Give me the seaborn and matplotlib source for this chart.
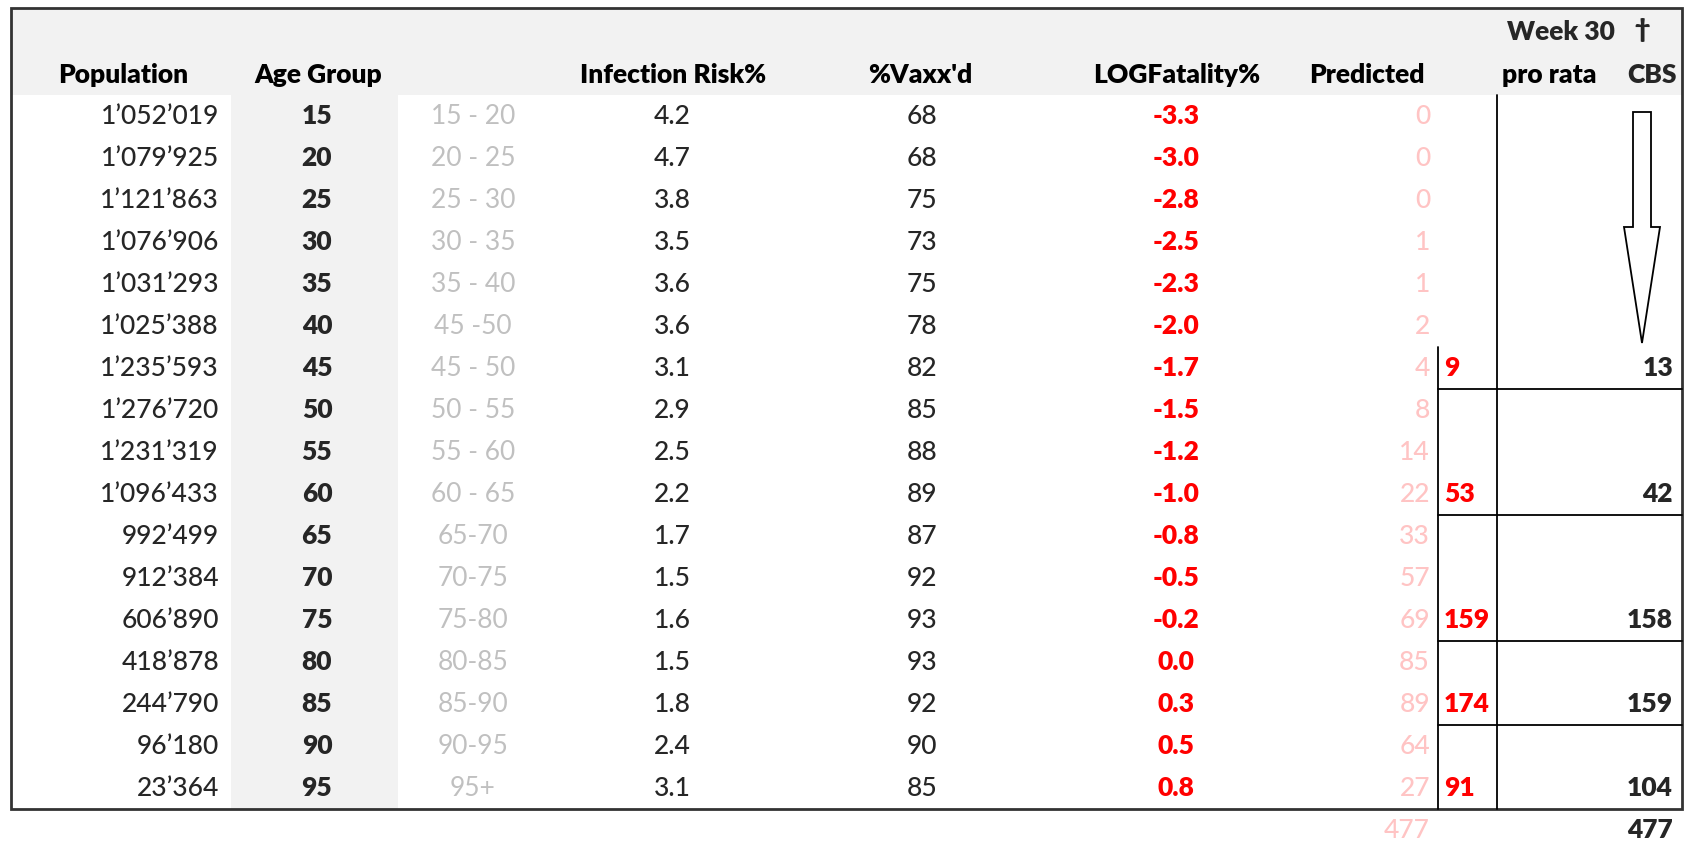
import matplotlib
matplotlib.use("Agg")
import matplotlib.pyplot as plt
from matplotlib.patches import Rectangle, Polygon
import seaborn as sns

# table data
population = [1052019, 1079925, 1121863, 1076906, 1031293, 1025388, 1235593, 1276720,
              1231319, 1096433, 992499, 912384, 606890, 418878, 244790, 96180, 23364]
age_group = [15, 20, 25, 30, 35, 40, 45, 50, 55, 60, 65, 70, 75, 80, 85, 90, 95]
age_range = ["15 - 20", "20 - 25", "25 - 30", "30 - 35", "35 - 40", "45 -50", "45 - 50",
             "50 - 55", "55 - 60", "60 - 65", "65-70", "70-75", "75-80", "80-85",
             "85-90", "90-95", "95+"]
infection_risk = [4.2, 4.7, 3.8, 3.5, 3.6, 3.6, 3.1, 2.9, 2.5, 2.2, 1.7, 1.5, 1.6, 1.5, 1.8, 2.4, 3.1]
vaxxed = [68, 68, 75, 73, 75, 78, 82, 85, 88, 89, 87, 92, 93, 93, 92, 90, 85]
log_fatality = [-3.3, -3.0, -2.8, -2.5, -2.3, -2.0, -1.7, -1.5, -1.2, -1.0, -0.8, -0.5,
                -0.2, 0.0, 0.3, 0.5, 0.8]
predicted = [0, 0, 0, 1, 1, 2, 4, 8, 14, 22, 33, 57, 69, 85, 89, 64, 27]
# pro rata / CBS groups: (first row, last row)
groups = [(0, 6), (7, 9), (10, 12), (13, 14), (15, 16)]
pro_rata = [9, 53, 159, 174, 91]
cbs = [13, 42, 158, 159, 104]
predicted_total = 477
cbs_total = 477

headers = ["Population", "Age Group", "Infection Risk%", "%Vaxx'd", "LOGFatality%",
           "Predicted", "pro rata"]

sns.set_theme(style="white")
plt.rcParams['font.family'] = ['Lato', 'DejaVu Sans']

RED = "#ff0000"
PINK = "#ffc4c4"
LIGHT = "#c0c0c0"
GREY_BG = "#f2f2f2"
FS = 19
REG = "medium"
BOLD = "heavy"

fig = plt.figure(figsize=(16.85, 8.46), dpi=100)
ax = fig.add_axes([0, 0, 1, 1])
ax.set_xlim(0, 1685)
ax.set_ylim(846, 0)
ax.axis("off")

# layout (pixels)
left, right, top = 11, 1682, 8
row0, row_h = 116, 42
data_top = row0 - row_h / 2
bottom = row0 + (len(age_group) - 0.5) * row_h

# backgrounds
ax.add_patch(Rectangle((left, top), right - left, data_top - top, color=GREY_BG, lw=0))
ax.add_patch(Rectangle((231, data_top), 398 - 231, bottom - data_top, color=GREY_BG, lw=0))

# header
hx = [123, 318, 673, 920, 1177, 1367, 1549]
for x, h in zip(hx, headers):
    ax.text(x, 75, h, ha="center", va="center", fontsize=FS, fontweight=BOLD, color="black")
ax.text(1677, 75, "CBS", ha="right", va="center", fontsize=FS, fontweight=BOLD)
ax.text(1561, 32, "Week 30", ha="center", va="center", fontsize=FS, fontweight=BOLD)
ax.text(1642, 30, "\u2020", ha="center", va="center", fontsize=FS, fontweight=BOLD)

# rows
for i in range(len(age_group)):
    y = row0 + i * row_h
    ax.text(219, y, f"{population[i]:,}".replace(",", "\u2019"), ha="right", va="center",
            fontsize=FS, fontweight=REG)
    ax.text(317, y, str(age_group[i]), ha="center", va="center", fontsize=FS, fontweight=BOLD)
    ax.text(473, y, age_range[i], ha="center", va="center", fontsize=FS, color=LIGHT)
    ax.text(672, y, f"{infection_risk[i]:.1f}", ha="center", va="center", fontsize=FS, fontweight=REG)
    ax.text(922, y, str(vaxxed[i]), ha="center", va="center", fontsize=FS, fontweight=REG)
    ax.text(1176, y, f"{log_fatality[i]:.1f}", ha="center", va="center", fontsize=FS,
            fontweight=BOLD, color=RED)
    ax.text(1430, y, str(predicted[i]), ha="right", va="center", fontsize=FS, fontweight=REG, color=PINK)

# pro rata / CBS group cells
for (a, b), pr, c in zip(groups, pro_rata, cbs):
    y = row0 + b * row_h
    ax.text(1444, y, str(pr), ha="left", va="center", fontsize=FS, fontweight=BOLD, color=RED)
    ax.text(1673, y, str(c), ha="right", va="center", fontsize=FS, fontweight=BOLD)
    if b < len(age_group) - 1:
        ly = row0 + (b + 0.5) * row_h
        ax.plot([1438, right], [ly, ly], color="black", lw=1.3)

ax.plot([1438, 1438], [row0 + 5.5 * row_h, bottom], color="black", lw=1.3)
ax.plot([1497, 1497], [data_top, bottom], color="black", lw=1.3)

# arrow
arrow = Polygon([(1633, 112), (1651, 112), (1651, 227), (1660, 227), (1642, 343),
                 (1624, 227), (1633, 227)], closed=True, facecolor="white",
                edgecolor="black", lw=1.3)
ax.add_patch(arrow)

# outer border
ax.add_patch(Rectangle((left, top), right - left, bottom - top, fill=False,
                       edgecolor="#333333", lw=2))

# totals
ax.text(1430, 830, str(predicted_total), ha="right", va="center", fontsize=FS,
        fontweight=REG, color=PINK)
ax.text(1673, 830, str(cbs_total), ha="right", va="center", fontsize=FS, fontweight=BOLD)

fig.savefig("out.png", dpi=100)
